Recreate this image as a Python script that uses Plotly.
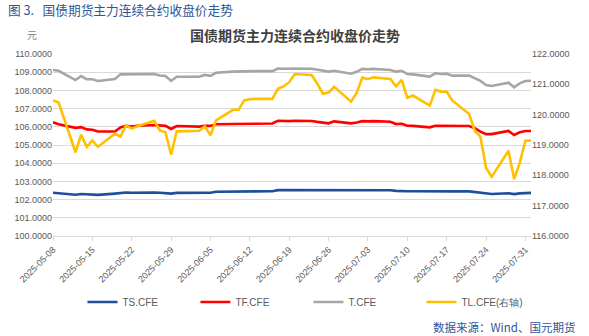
import plotly.graph_objects as go

# Trading days (2025-05-08 .. 2025-08-01)
dates = [
    "2025-05-08", "2025-05-09", "2025-05-12", "2025-05-13", "2025-05-14", "2025-05-15", "2025-05-16",
    "2025-05-19", "2025-05-20", "2025-05-21", "2025-05-22", "2025-05-23",
    "2025-05-26", "2025-05-27", "2025-05-28", "2025-05-29", "2025-05-30",
    "2025-06-03", "2025-06-04", "2025-06-05", "2025-06-06",
    "2025-06-09", "2025-06-10", "2025-06-11", "2025-06-12", "2025-06-13",
    "2025-06-16", "2025-06-17", "2025-06-18", "2025-06-19", "2025-06-20",
    "2025-06-23", "2025-06-24", "2025-06-25", "2025-06-26", "2025-06-27",
    "2025-06-30", "2025-07-01", "2025-07-02", "2025-07-03", "2025-07-04",
    "2025-07-07", "2025-07-08", "2025-07-09", "2025-07-10", "2025-07-11",
    "2025-07-14", "2025-07-15", "2025-07-16", "2025-07-17", "2025-07-18",
    "2025-07-21", "2025-07-22", "2025-07-23", "2025-07-24", "2025-07-25",
    "2025-07-28", "2025-07-29", "2025-07-30", "2025-07-31", "2025-08-01",
]

ts_cfe = [
    102.38, 102.36, 102.27, 102.31, 102.28, 102.29, 102.26,
    102.33, 102.38, 102.39, 102.38, 102.39,
    102.39, 102.38, 102.37, 102.33, 102.37,
    102.37, 102.39, 102.38, 102.43,
    102.44, 102.45, 102.46, 102.45, 102.46,
    102.46, 102.52, 102.52, 102.51, 102.53,
    102.52, 102.51, 102.50, 102.49, 102.52,
    102.49, 102.50, 102.53, 102.52, 102.52,
    102.51, 102.48, 102.49, 102.46, 102.46,
    102.44, 102.46, 102.46, 102.46, 102.45,
    102.45, 102.42, 102.38, 102.32, 102.31,
    102.35, 102.30, 102.34, 102.37, 102.37,
]

tf_cfe = [
    106.25, 106.14, 105.94, 105.98, 105.86, 105.84, 105.74,
    105.74, 105.97, 106.05, 106.02, 106.06,
    106.10, 106.06, 106.05, 105.88, 106.04,
    106.01, 106.06, 106.05, 106.14,
    106.15, 106.15, 106.18, 106.16, 106.18,
    106.18, 106.33, 106.31, 106.31, 106.33,
    106.32, 106.27, 106.22, 106.19, 106.30,
    106.19, 106.24, 106.31, 106.30, 106.31,
    106.28, 106.15, 106.17, 106.06, 106.05,
    105.97, 106.06, 106.05, 106.06, 106.04,
    106.04, 105.92, 105.73, 105.60, 105.60,
    105.77, 105.55, 105.70, 105.77, 105.77,
]

t_cfe = [
    109.12, 109.08, 108.57, 108.79, 108.61, 108.61, 108.52,
    108.62, 108.88, 108.88, 108.86, 108.88,
    108.90, 108.82, 108.79, 108.52, 108.75,
    108.75, 108.85, 108.80, 108.97,
    109.03, 109.04, 109.06, 109.05, 109.06,
    109.06, 109.20, 109.19, 109.18, 109.20,
    109.19, 109.14, 109.08, 109.03, 109.08,
    108.92, 109.02, 109.18, 109.16, 109.18,
    109.12, 109.03, 109.08, 108.90, 108.88,
    108.76, 108.94, 108.90, 108.92, 108.81,
    108.81, 108.66, 108.52, 108.30, 108.24,
    108.42, 108.17, 108.39, 108.52, 108.53,
]

tl_cfe = [
    120.47, 120.40, 118.76, 119.34, 118.94, 119.15, 118.94,
    119.37, 119.28, 119.65, 119.54, 119.62,
    119.80, 119.48, 119.42, 118.68, 119.45,
    119.47, 119.61, 119.32, 119.81,
    120.16, 120.16, 120.47, 120.51, 120.52,
    120.52, 120.85, 120.93, 121.07, 121.34,
    121.31, 121.02, 120.69, 120.73, 120.92,
    120.43, 120.72, 121.22, 121.17, 121.23,
    121.18, 120.93, 121.15, 120.56, 120.63,
    120.30, 120.82, 120.76, 120.76, 120.47,
    120.02, 119.47, 119.28, 118.25, 117.95,
    118.81, 117.88, 118.41, 119.14, 119.15,
]

series_names = ["TS.CFE", "TF.CFE", "T.CFE", "TL.CFE(右轴)"]
series_colors = ["#1f4e9c", "#ff0000", "#a6a6a6", "#ffc000"]

left_ticks = [100 + i for i in range(11)]
right_ticks = [116 + i for i in range(7)]

FONT = "Liberation Sans, Arial, sans-serif"
CJK = "Noto Sans CJK SC, sans-serif"

fig = go.Figure()
for name, vals, color, axis in zip(
    series_names, [ts_cfe, tf_cfe, t_cfe, tl_cfe], series_colors, ["y", "y", "y", "y2"]
):
    fig.add_trace(go.Scatter(
        x=dates, y=vals, name=name, mode="lines", yaxis=axis,
        line=dict(color=color, width=2.6),
    ))

fig.update_layout(
    width=589, height=336,
    margin=dict(l=53, r=58, t=54, b=100, autoexpand=False),
    paper_bgcolor="white", plot_bgcolor="white",
    font=dict(family=FONT, size=9, color="#595959"),
    showlegend=True,
    legend=dict(
        orientation="h", xref="container", yref="container",
        x=0.14, y=0.101, xanchor="left", yanchor="middle",
        entrywidth=68, entrywidthmode="pixels",
        font=dict(family=FONT, size=10, color="#595959"),
        itemwidth=30, bgcolor="rgba(0,0,0,0)",
    ),
    xaxis=dict(
        type="date",
        range=["2025-05-08", "2025-08-01"],
        tick0="2025-05-08", dtick=7 * 24 * 3600 * 1000,
        tickformat="%Y-%m-%d", tickangle=-45,
        showgrid=False, showline=True, linecolor="#d9d9d9", linewidth=1,
        ticks="outside", ticklen=4, tickcolor="#d9d9d9",
        tickfont=dict(size=9, color="#595959"),
        zeroline=False,
    ),
    yaxis=dict(
        range=[100, 110], tickvals=left_ticks, tickformat=".4f",
        showgrid=True, gridcolor="#d9d9d9", gridwidth=1,
        zeroline=False, showline=False, ticks="",
        tickfont=dict(size=9, color="#595959"),
    ),
    yaxis2=dict(
        range=[116, 122], tickvals=right_ticks, tickformat=".4f",
        overlaying="y", side="right", showgrid=False,
        zeroline=False, showline=False, ticks="",
        tickfont=dict(size=9, color="#595959"),
    ),
    annotations=[
        dict(text="图 3.&nbsp;&nbsp;&nbsp;国债期货主力连续合约收盘价走势", xref="paper", yref="paper",
             x=(6 - 53) / 478, y=1 + 44 / 182, xanchor="left", yanchor="middle",
             showarrow=False, font=dict(family=CJK, size=12.7, color="#2f5597")),
        dict(text="<b>国债期货主力连续合约收盘价走势</b>", xref="paper", yref="paper",
             x=(294.5 - 53) / 478, y=1 + 19 / 182, xanchor="center", yanchor="middle",
             showarrow=False, font=dict(family=CJK, size=14, color="#404040")),
        dict(text="元", xref="paper", yref="paper",
             x=(32 - 53) / 478, y=1 + 19 / 182, xanchor="center", yanchor="middle",
             showarrow=False, font=dict(family=CJK, size=10, color="#7f7f7f")),
        dict(text="数据来源：Wind、国元期货", xref="paper", yref="paper",
             x=(577 - 53) / 478, y=-(327 - 236) / 182, xanchor="right", yanchor="middle",
             showarrow=False, font=dict(family=CJK, size=11.5, color="#2f5597")),
    ],
)

fig.write_html("out.html")
